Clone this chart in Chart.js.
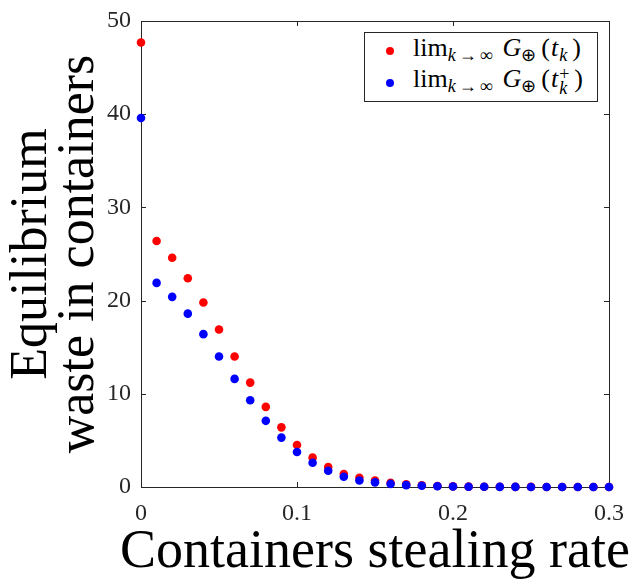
<!DOCTYPE html>
<html>
<head>
<meta charset="utf-8">
<script src="https://cdn.jsdelivr.net/npm/chart.js@4.4.0/dist/chart.umd.min.js"></script>
<style>
  html, body { margin: 0; padding: 0; background: #fff; }
  #wrap { position: relative; width: 633px; height: 579px; }
  #legend {
    position: absolute; left: 364px; top: 32px; width: 232px; height: 68px;
    border: 1px solid #262626; background: #fff;
    font-family: "Liberation Serif", serif; font-size: 26px; color: #000;
  }
  .dot { position: absolute; left: 21px; width: 8px; height: 8px; border-radius: 50%; }
  .txt { position: absolute; left: 48px; white-space: nowrap; line-height: 1; }
  .sub { font-size: 18px; vertical-align: -5px; }
  .lim { letter-spacing: 3px; margin-right: 5px; }
  .g { margin-left: 2px; }
  .op { margin-right: 5px; }
  .par { margin-right: 1px; }
  .k { margin-left: 1px; margin-right: 5px; }
  .stack { display: inline-block; vertical-align: -7px; font-size: 18px; line-height: 14px; text-align: left; margin-left: 1px; margin-right: 5px; }
  i { font-style: italic; }
</style>
</head>
<body>
<div id="wrap">
  <canvas id="chart" width="633" height="579"></canvas>
  <div id="legend">
    <div class="dot" style="top:14px; background:#ff0000;"></div>
    <div class="txt" style="top:2px;">lim<span class="sub lim"><i>k</i>→∞</span><i class="g">G</i><span class="sub op">⊕</span><span class="par">(</span><i>t</i><span class="sub k"><i>k</i></span>)</div>
    <div class="dot" style="top:46px; background:#0000ff;"></div>
    <div class="txt" style="top:33px;">lim<span class="sub lim"><i>k</i>→∞</span><i class="g">G</i><span class="sub op">⊕</span><span class="par">(</span><i>t</i><span class="stack">+<br><i>k</i></span>)</div>
  </div>
</div>
<script>
// valores
const rates = [0, 0.01, 0.02, 0.03, 0.04, 0.05, 0.06, 0.07, 0.08, 0.09, 0.1,
  0.11, 0.12, 0.13, 0.14, 0.15, 0.16, 0.17, 0.18, 0.19, 0.2,
  0.21, 0.22, 0.23, 0.24, 0.25, 0.26, 0.27, 0.28, 0.29, 0.3];
const wasteAtTk = [47.7, 26.4, 24.6, 22.4, 19.8, 16.9, 14.0, 11.2, 8.6, 6.4, 4.5,
  3.15, 2.15, 1.4, 1.0, 0.7, 0.45, 0.28, 0.18, 0.11, 0.07,
  0.04, 0.03, 0.02, 0.01, 0.01, 0.005, 0, 0, 0, 0];
const wasteAtTkPlus = [39.6, 21.9, 20.4, 18.6, 16.4, 14.0, 11.6, 9.3, 7.1, 5.3, 3.75,
  2.6, 1.75, 1.1, 0.7, 0.5, 0.33, 0.2, 0.13, 0.08, 0.05,
  0.03, 0.02, 0.01, 0.01, 0.005, 0, 0, 0, 0, 0];
const xTicks = [0, 0.1, 0.2, 0.3];
const yTicks = [0, 10, 20, 30, 40, 50];
const xTitle = 'Containers stealing rate';

const axisColor = '#262626';
const serif = '"Liberation Serif", serif';

// caja y marcas hacia dentro, estilo MATLAB
const boxPlugin = {
  id: 'matlabBox',
  beforeDatasetsDraw(chart) {
    const { ctx, chartArea: a, scales } = chart;
    const len = 5;
    ctx.save();
    ctx.strokeStyle = axisColor;
    ctx.lineWidth = 1;
    ctx.beginPath();
    xTicks.forEach(v => {
      const px = Math.round(scales.x.getPixelForValue(v)) + 0.5;
      ctx.moveTo(px, a.bottom); ctx.lineTo(px, a.bottom - len);
      ctx.moveTo(px, a.top); ctx.lineTo(px, a.top + len);
    });
    yTicks.forEach(v => {
      const py = Math.round(scales.y.getPixelForValue(v)) + 0.5;
      ctx.moveTo(a.left, py); ctx.lineTo(a.left + len, py);
      ctx.moveTo(a.right, py); ctx.lineTo(a.right - len, py);
    });
    ctx.stroke();
    ctx.strokeRect(Math.round(a.left) + 0.5, Math.round(a.top) + 0.5,
      Math.round(a.right - a.left), Math.round(a.bottom - a.top));
    ctx.restore();
  },
  // el título del eje x es más ancho que el área, Chart.js lo comprimiría
  afterDraw(chart) {
    const { ctx, chartArea: a } = chart;
    ctx.save();
    ctx.font = '54px ' + serif;
    ctx.fillStyle = '#000';
    ctx.textAlign = 'center';
    ctx.textBaseline = 'alphabetic';
    ctx.fillText(xTitle, (a.left + a.right) / 2, a.bottom + 80);
    ctx.restore();
  }
};

const ctx = document.getElementById('chart').getContext('2d');
new Chart(ctx, {
  type: 'scatter',
  data: {
    datasets: [
      {
        label: 'lim G(t_k)',
        data: rates.map((r, i) => ({ x: r, y: wasteAtTk[i] })),
        backgroundColor: '#ff0000',
        borderWidth: 0,
        pointRadius: 4.3,
        clip: false,
        order: 2
      },
      {
        label: 'lim G(t_k+)',
        data: rates.map((r, i) => ({ x: r, y: wasteAtTkPlus[i] })),
        backgroundColor: '#0000ff',
        borderWidth: 0,
        pointRadius: 4.3,
        clip: false,
        order: 1
      }
    ]
  },
  options: {
    responsive: false,
    devicePixelRatio: 1,
    animation: false,
    layout: { padding: { top: 21, right: 24, left: 0, bottom: 0 } },
    plugins: { legend: { display: false }, tooltip: { enabled: false } },
    scales: {
      x: {
        type: 'linear', min: 0, max: 0.3,
        afterBuildTicks: s => { s.ticks = xTicks.map(v => ({ value: v })); },
        afterFit: s => { s.height = 92; },
        grid: { display: false },
        border: { display: false },
        ticks: {
          color: axisColor, padding: 4,
          font: { family: serif, size: 24 },
          maxRotation: 0,
          callback: v => String(v)
        },
        title: { display: false }
      },
      y: {
        type: 'linear', min: 0, max: 50,
        afterBuildTicks: s => { s.ticks = yTicks.map(v => ({ value: v })); },
        afterFit: s => { s.width = 141; },
        grid: { display: false },
        border: { display: false },
        ticks: {
          color: axisColor, padding: 2,
          font: { family: serif, size: 24 },
          callback: v => String(v)
        },
        title: {
          display: true, text: ['Equilibrium', 'waste in containers'], color: '#000',
          font: { family: serif, size: 52, lineHeight: 0.9 },
          padding: { top: 9, bottom: 0 }
        }
      }
    }
  },
  plugins: [boxPlugin]
});
</script>
</body>
</html>
